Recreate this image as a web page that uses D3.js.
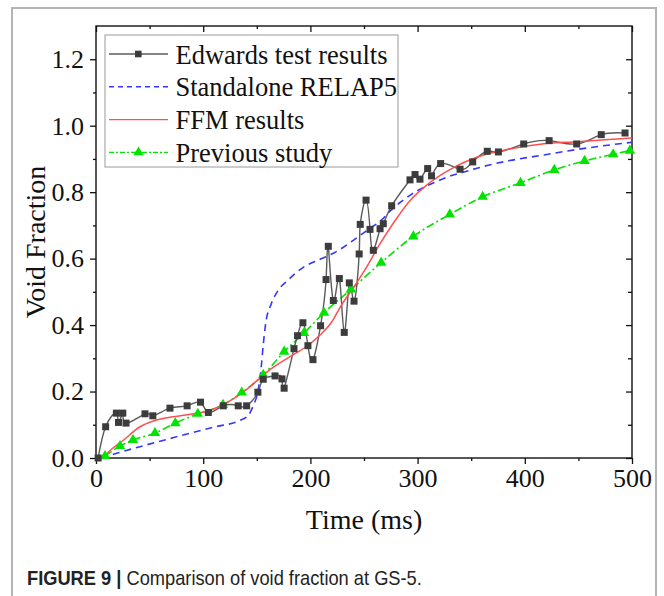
<!DOCTYPE html>
<html>
<head>
<meta charset="utf-8">
<script src="https://cdn.jsdelivr.net/npm/d3@7"></script>
<style>
    body { margin: 0; background: #fff; }
    svg { display: block; }
</style>
</head>
<body>
<svg id="chart" width="664" height="596"></svg>
<script>
// Edwards test results (time in ms, void fraction)
var edwardsTime = [2, 9, 19, 21, 25, 28, 45.7, 53, 69, 85, 97.5, 104.8, 118.7, 132.7, 140.5,
                   151, 156, 167, 173.5, 175.5, 184.7, 188, 193, 197.7, 202.4, 209.5,
                   214.6, 216.7, 221.4, 227, 231.6, 236.3, 240.7, 245.5, 246.5, 251.9,
                   255.6, 258.7, 265, 268, 275.8, 292.9, 297.6, 302.2, 309.4, 313,
                   321.5, 339.6, 351.4, 365, 375.4, 399, 422.7, 448.4, 471.3, 493.5];
var edwardsVoid = [0.0, 0.094, 0.135, 0.107, 0.135, 0.105, 0.133, 0.127, 0.15, 0.157, 0.168, 0.137, 0.157, 0.157, 0.157,
                   0.198, 0.237, 0.247, 0.238, 0.21, 0.329, 0.368, 0.407, 0.338, 0.296, 0.398,
                   0.537, 0.637, 0.474, 0.54, 0.378, 0.527, 0.472, 0.614, 0.703, 0.776,
                   0.688, 0.625, 0.69, 0.705, 0.759, 0.837, 0.853, 0.839, 0.871, 0.849,
                   0.886, 0.869, 0.891, 0.923, 0.921, 0.945, 0.955, 0.945, 0.973, 0.978];

// Standalone RELAP5
var relapTime = [5, 20, 41, 65, 88, 110, 134, 142, 147, 151, 154, 156, 158.5, 163, 170, 178, 193, 209,
                 222, 240, 255, 266, 274, 285, 299, 315, 330, 345, 361, 386, 418, 440, 465, 500];
var relapVoid = [0.0, 0.015, 0.034, 0.055, 0.075, 0.093, 0.113, 0.128, 0.16, 0.2, 0.27, 0.34, 0.41, 0.46, 0.505, 0.532, 0.573, 0.598,
                 0.617, 0.655, 0.69, 0.715, 0.742, 0.772, 0.803, 0.828, 0.848, 0.862, 0.877, 0.895, 0.912, 0.924, 0.936, 0.95];

// FFM results
var ffmTime = [6, 15, 25, 41, 55, 72, 88, 103, 115, 128, 140, 150, 162, 181, 197, 209, 220, 228,
               240, 251, 265, 277, 293, 308, 333, 355, 386, 418, 449, 475, 500];
var ffmVoid = [0.0, 0.028, 0.052, 0.094, 0.113, 0.124, 0.132, 0.14, 0.155, 0.178, 0.205, 0.232, 0.265, 0.305, 0.337, 0.37, 0.41, 0.455,
               0.512, 0.567, 0.645, 0.705, 0.775, 0.82, 0.873, 0.905, 0.93, 0.946, 0.952, 0.958, 0.963];

// Previous study
var prevTime = [8.4, 22.4, 34.5, 55, 74, 95, 118.5, 136, 156, 175.5, 194, 212.7, 237.8, 266,
                296, 330, 360.7, 396, 427.5, 455.8, 482.4, 498];
var prevVoid = [0.006, 0.036, 0.054, 0.075, 0.105, 0.133, 0.16, 0.197, 0.25, 0.32, 0.376, 0.437, 0.507, 0.588,
                0.667, 0.733, 0.786, 0.828, 0.867, 0.894, 0.914, 0.925];

var xTicks = [0, 100, 200, 300, 400, 500];
var xMinorTicks = [50, 150, 250, 350, 450];
var yTicks = [0, 0.2, 0.4, 0.6, 0.8, 1.0, 1.2];
var yMinorTicks = [0.1, 0.3, 0.5, 0.7, 0.9, 1.1];

var legendLabels = ['Edwards test results', 'Standalone RELAP5', 'FFM results', 'Previous study'];

var svg = d3.select('#chart');
var serif = '"Liberation Serif", "Times New Roman", serif';

// Outer figure frame
svg.append('rect').attr('x', 12).attr('y', 8).attr('width', 644).attr('height', 620)
   .attr('fill', 'none').attr('stroke', '#b4b4b4').attr('stroke-width', 2);

var xScale = d3.scaleLinear().domain([0, 500]).range([96, 632]);
var yScale = d3.scaleLinear().domain([0, 1.3]).range([458, 26]);

// Axes
function styleAxis(g) {
    g.select('.domain').remove();
    g.selectAll('.tick line').attr('stroke', '#111').attr('stroke-width', 1.3);
    g.selectAll('.tick text').attr('font-family', serif).attr('font-size', 26).attr('fill', '#111');
}

svg.append('g').attr('transform', 'translate(0,458)')
   .call(d3.axisBottom(xScale).tickValues(xTicks).tickSize(6).tickPadding(5).tickFormat(d3.format('d')))
   .call(styleAxis);
svg.append('g').attr('transform', 'translate(0,458)')
   .call(d3.axisBottom(xScale).tickValues(xMinorTicks).tickSize(3).tickFormat(''))
   .call(styleAxis);
svg.append('g').attr('transform', 'translate(96,0)')
   .call(d3.axisLeft(yScale).tickValues(yTicks).tickSize(6).tickPadding(6).tickFormat(d3.format('.1f')))
   .call(styleAxis);
svg.append('g').attr('transform', 'translate(96,0)')
   .call(d3.axisLeft(yScale).tickValues(yMinorTicks).tickSize(3).tickFormat(''))
   .call(styleAxis);
svg.append('g').attr('transform', 'translate(0,26)')
   .call(d3.axisTop(xScale).tickValues(xTicks).tickSize(-6).tickFormat(''))
   .call(styleAxis);
svg.append('g').attr('transform', 'translate(0,26)')
   .call(d3.axisTop(xScale).tickValues(xMinorTicks).tickSize(-3).tickFormat(''))
   .call(styleAxis);
svg.append('g').attr('transform', 'translate(632,0)')
   .call(d3.axisRight(yScale).tickValues(yTicks).tickSize(-6).tickFormat(''))
   .call(styleAxis);
svg.append('g').attr('transform', 'translate(632,0)')
   .call(d3.axisRight(yScale).tickValues(yMinorTicks).tickSize(-4).tickFormat(''))
   .call(styleAxis);

// Plot frame
svg.append('rect').attr('x', 96).attr('y', 26).attr('width', 536).attr('height', 432)
   .attr('fill', 'none').attr('stroke', '#111').attr('stroke-width', 1.4);

// Axis titles
svg.append('text').attr('x', 364).attr('y', 529).attr('text-anchor', 'middle')
   .attr('font-family', serif).attr('font-size', 28).attr('fill', '#111').text('Time (ms)');
svg.append('text').attr('transform', 'translate(45,242) rotate(-90)').attr('text-anchor', 'middle')
   .attr('font-family', serif).attr('font-size', 28).attr('fill', '#111').text('Void Fraction');

// Series
var plot = svg.append('g');
var line = d3.line().x((d) => xScale(d[0])).y((d) => yScale(d[1]));

var edwards = d3.zip(edwardsTime, edwardsVoid);
var relap = d3.zip(relapTime, relapVoid);
var ffm = d3.zip(ffmTime, ffmVoid);
var prev = d3.zip(prevTime, prevVoid);

plot.append('path').datum(relap).attr('fill', 'none').attr('stroke', '#3535ff').attr('stroke-width', 1.6)
    .attr('stroke-dasharray', '7,5').attr('d', line.curve(d3.curveMonotoneX));
plot.append('path').datum(prev).attr('fill', 'none').attr('stroke', '#00e400').attr('stroke-width', 1.6)
    .attr('stroke-dasharray', '8,3,2,3').attr('d', line.curve(d3.curveMonotoneX));
plot.append('path').datum(edwards).attr('fill', 'none').attr('stroke', '#5a5a5a').attr('stroke-width', 1.4)
    .attr('d', line.curve(d3.curveNatural));
plot.append('path').datum(ffm).attr('fill', 'none').attr('stroke', '#ff4f4f').attr('stroke-width', 1.5)
    .attr('d', line.curve(d3.curveMonotoneX));

var tri = d3.symbol().type(d3.symbolTriangle).size(48);
plot.selectAll('path.tri').data(prev).enter().append('path').classed('tri', true)
    .attr('transform', (d) => 'translate(' + xScale(d[0]) + ',' + yScale(d[1]) + ')')
    .attr('d', tri).attr('fill', '#00e400');

plot.selectAll('rect.sq').data(edwards).enter().append('rect').classed('sq', true)
    .attr('x', (d) => xScale(d[0]) - 3.5).attr('y', (d) => yScale(d[1]) - 3.5)
    .attr('width', 7).attr('height', 7).attr('fill', '#3c3c3c');

// Legend
var legend = svg.append('g');
legend.append('rect').attr('x', 105).attr('y', 35).attr('width', 293).attr('height', 132)
      .attr('fill', '#fff').attr('stroke', '#9a9a9a').attr('stroke-width', 1);
var legendStyles = [
    {stroke: '#5a5a5a', dash: null, marker: 'square'},
    {stroke: '#3535ff', dash: '5,4', marker: null},
    {stroke: '#ff4f4f', dash: null, marker: null},
    {stroke: '#00e400', dash: '5,2,2,2', marker: 'triangle'}
];
legendLabels.forEach(function(label, i) {
    var y = 54 + i * 32.8;
    var s = legendStyles[i];
    legend.append('line').attr('x1', 109).attr('x2', 168).attr('y1', y).attr('y2', y)
          .attr('stroke', s.stroke).attr('stroke-width', 1.4).attr('stroke-dasharray', s.dash);
    if (s.marker == 'square')
        legend.append('rect').attr('x', 135).attr('y', y - 3.3).attr('width', 6.6).attr('height', 6.6).attr('fill', '#3c3c3c');
    if (s.marker == 'triangle')
        legend.append('path').attr('transform', 'translate(138.5,' + y + ')')
              .attr('d', d3.symbol().type(d3.symbolTriangle).size(44)).attr('fill', '#00e400');
    legend.append('text').attr('x', 175.5).attr('y', y + 9.5).attr('font-family', serif).attr('font-size', 26.5)
          .attr('fill', '#111').text(label);
});

// Caption (condensed sans, squeezed horizontally)
var caption = svg.append('text').attr('transform', 'translate(27,585) scale(0.87,1)')
                 .attr('font-family', '"Liberation Sans", Arial, sans-serif')
                 .attr('font-size', 21).attr('fill', '#222');
caption.append('tspan').attr('font-weight', 'bold').text('FIGURE 9 | ');
caption.append('tspan').text('Comparison of void fraction at GS-5.');
</script>
</body>
</html>
